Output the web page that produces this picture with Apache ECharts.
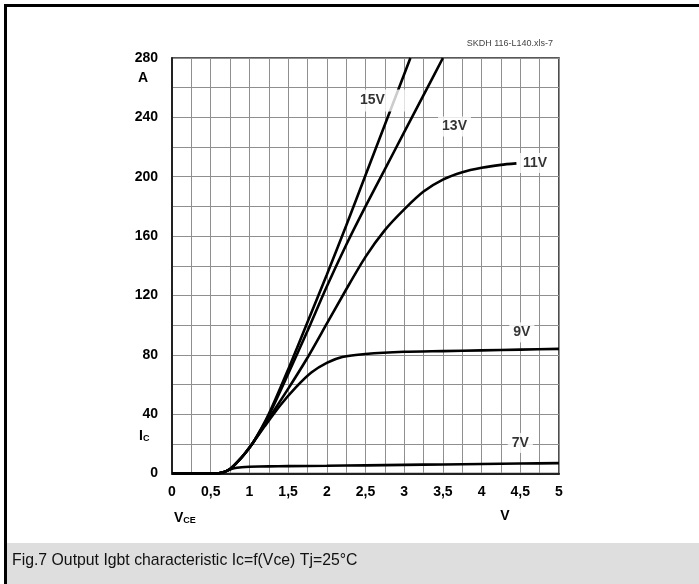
<!DOCTYPE html>
<html>
<head>
<meta charset="utf-8">
<script src="https://cdn.jsdelivr.net/npm/echarts@6/dist/echarts.min.js"></script>
<style>
html,body{margin:0;padding:0;background:#fff;}
#chart{width:699px;height:584px;}
</style>
</head>
<body>
<div id="chart"></div>
<script>
// ---- data (Vce [V], Ic [A]) ----
const curve7V = [[0,0],[0.55,0],[0.65,0.5],[0.72,2],[0.8,3.5],[0.9,4.2],[1.0,4.5],[1.25,4.8],[1.5,5],[2,5.2],[2.5,5.5],[3,5.8],[3.5,6.1],[4,6.4],[4.5,6.7],[5,7]];
const curve9V = [[0,0],[0.55,0],[0.65,0.6],[0.75,3],[0.85,8],[0.95,14],[1.05,21],[1.2,32],[1.4,46],[1.6,58],[1.8,68],[2.0,74.5],[2.2,78.5],[2.5,80.5],[3,82],[3.5,82.5],[4,83],[4.5,83.5],[5,84]];
const curve11V = [[0,0],[0.55,0],[0.65,0.6],[0.75,3],[0.85,8],[0.95,14],[1.05,21],[1.25,37],[1.5,57],[1.75,78],[2.0,101],[2.25,124],[2.5,146],[2.75,164],[3.0,178],[3.25,190],[3.5,198],[3.75,203],[4,206],[4.25,208],[4.45,209]];
const curve13V = [[0,0],[0.55,0],[0.65,0.6],[0.75,3],[0.85,8],[0.95,14],[1.05,21],[1.25,39],[1.5,67],[1.75,96],[2.0,126],[2.25,154],[2.5,180],[2.75,205],[3.0,230],[3.25,255],[3.5,280]];
const curve15V = [[0,0],[0.55,0],[0.65,0.6],[0.75,3],[0.85,8],[0.95,14],[1.05,21],[1.25,40],[1.5,70],[1.75,102],[2.0,134],[2.25,167],[2.5,201],[2.75,235],[3.0,269],[3.08,280]];
const curveLabels = [[2.59,251.3,'15V'],[3.65,233.8,'13V'],[4.69,209.2,'11V'],[4.52,95.1,'9V'],[4.5,20.6,'7V']];
const xTicks = [0,0.5,1,1.5,2,2.5,3,3.5,4,4.5,5];
const yTicks = [0,40,80,120,160,200,240,280];

const chart = echarts.init(document.getElementById('chart'), null, {renderer:'canvas'});
const FONT = 'Liberation Sans, Arial, sans-serif';
function isTick(list, v){ return list.some(t => Math.abs(t - v) < 1e-6); }
function curve(name, data){
  return {type:'line', name, data, showSymbol:false, smooth:0.25,
    lineStyle:{color:'#000', width:2.6}, z:5, silent:true};
}
// the 15V label's white box also interrupts the 15V line, as in the original
const labelData = curveLabels.map(d => d[2] === '15V'
  ? {value:d, label:{padding:[4,20,4,4], offset:[8,0]}}
  : {value:d});
const option = {
  animation:false,
  backgroundColor:'#fff',
  grid:{left:172, top:58, width:387, height:415.5, show:true, borderColor:'#222', borderWidth:1.6},
  xAxis:{type:'value', min:0, max:5, interval:0.25,
    axisLine:{show:true, onZero:false, lineStyle:{color:'#222', width:2}},
    axisTick:{show:false},
    splitLine:{show:true, lineStyle:{color:'#8f8f8f', width:1}},
    axisLabel:{show:true, margin:12, fontFamily:FONT, fontWeight:'bold', fontSize:14, color:'#000',
      showMinLabel:true, showMaxLabel:true,
      formatter:v => isTick(xTicks, v) ? String(v).replace('.', ',') : ''}},
  yAxis:{type:'value', min:0, max:280, interval:20,
    axisLine:{show:true, onZero:false, lineStyle:{color:'#222', width:2}},
    axisTick:{show:false},
    splitLine:{show:true, lineStyle:{color:'#8f8f8f', width:1}},
    axisLabel:{show:true, margin:14, fontFamily:FONT, fontWeight:'bold', fontSize:14, color:'#000',
      showMinLabel:true, showMaxLabel:true,
      formatter:v => isTick(yTicks, v) ? String(v) : ''}},
  series:[
    curve('7V', curve7V), curve('9V', curve9V), curve('11V', curve11V), curve('13V', curve13V), curve('15V', curve15V),
    {type:'scatter', data:labelData, symbolSize:0, z:10, silent:true,
      label:{show:true, position:'inside', formatter:p => p.value[2], fontFamily:FONT, fontWeight:'bold', fontSize:14,
        color:'#000', backgroundColor:'#fff', padding:[3,4,3,4]}}
  ],
  graphic:[
    {type:'rect', left:7, top:543, z:1, shape:{width:692, height:41}, style:{fill:'#dedede'}},
    {type:'polyline', z:2, shape:{points:[[5.5,700],[5.5,5.5],[720,5.5]]}, style:{stroke:'#000', lineWidth:3, fill:null}},
    {type:'text', x:12, y:552, scaleX:0.93, z:3, style:{text:'Fig.7 Output Igbt characteristic Ic=f(Vce) Tj=25°C',
      font:'17px "Liberation Sans", Arial, sans-serif', fill:'#111'}},
    {type:'text', right:146, top:39, z:3, style:{text:'SKDH 116-L140.xls-7', font:'9px Liberation Sans, Arial, sans-serif', fill:'#444'}},
    {type:'text', x:143, y:78, z:3, style:{text:'A', font:'bold 14px Liberation Sans, Arial, sans-serif', fill:'#000', align:'center', verticalAlign:'middle'}},
    {type:'text', x:139, y:436, z:3, style:{text:'{m|I}{s|C}', font:'bold 14px Liberation Sans, Arial, sans-serif', fill:'#000', verticalAlign:'middle',
      rich:{m:{fontFamily:FONT, fontWeight:'bold', fontSize:14, fill:'#000'}, s:{fontFamily:FONT, fontWeight:'bold', fontSize:9, fill:'#000', padding:[6,0,0,0]}}}},
    {type:'text', x:174, y:518, z:3, style:{text:'{m|V}{s|CE}', font:'bold 14px Liberation Sans, Arial, sans-serif', fill:'#000', verticalAlign:'middle',
      rich:{m:{fontFamily:FONT, fontWeight:'bold', fontSize:14, fill:'#000'}, s:{fontFamily:FONT, fontWeight:'bold', fontSize:9, fill:'#000', padding:[6,0,0,0]}}}},
    {type:'text', x:505, y:516, z:3, style:{text:'V', font:'bold 14px Liberation Sans, Arial, sans-serif', fill:'#000', align:'center', verticalAlign:'middle'}}
  ]
};
chart.setOption(option);
</script>
</body>
</html>
